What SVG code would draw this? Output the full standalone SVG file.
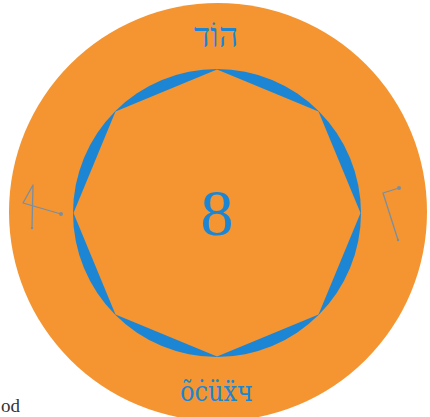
<svg xmlns="http://www.w3.org/2000/svg" width="430" height="417" viewBox="0 0 430 417">
  <style>
    .blue { fill: #1c86d4; }
    .orange { fill: #f49531; }
    .sigil { fill: none; stroke: #7a8ea0; stroke-width: 1.3; stroke-linecap: round; stroke-linejoin: round; }
    .dot { fill: #7a8ea0; }
    .serif { font-family: "Liberation Serif", "DejaVu Serif", serif; }
  </style>
  <rect width="430" height="417" fill="#ffffff"/>
  <g id="disc">
    <circle class="orange" cx="218" cy="212" r="209"/>
  </g>
  <g id="octagon-ring">
    <circle class="blue" cx="217" cy="213" r="144"/>
    <polygon class="orange" points="217,69.5 318.5,111.5 360.5,213 318.5,314.5 217,356.5 115.5,314.5 73.5,213 115.5,111.5"/>
  </g>
  <g id="number">
    <text class="serif" x="217" y="235" font-size="66" text-anchor="middle" fill="#1c86d4">8</text>
  </g>
  <g id="hebrew-top">
    <text x="216" y="47" font-family="Liberation Serif, DejaVu Sans, serif" font-size="34" text-anchor="middle" fill="#1c86d4" direction="rtl">הוֹד</text>
  </g>
  <g id="script-bottom">
    <text x="180" y="401" font-family="DejaVu Serif, serif" font-size="28" textLength="73" lengthAdjust="spacingAndGlyphs" fill="#1c86d4">õċüẍч</text>
  </g>
  <g id="sigil-left">
    <polyline class="sigil" points="32,228 33,185 23,203 61,214"/>
    <circle class="dot" cx="61" cy="214" r="2"/>
    <circle class="dot" cx="32" cy="228" r="1.2"/>
  </g>
  <g id="sigil-right">
    <polyline class="sigil" points="399,188 383,193 398,240"/>
    <circle class="dot" cx="399" cy="188" r="2"/>
    <circle class="dot" cx="398" cy="240" r="1.2"/>
  </g>
  <g id="caption">
    <text class="serif" x="20" y="412" font-size="19" text-anchor="end" fill="#333333">od</text>
  </g>
</svg>
